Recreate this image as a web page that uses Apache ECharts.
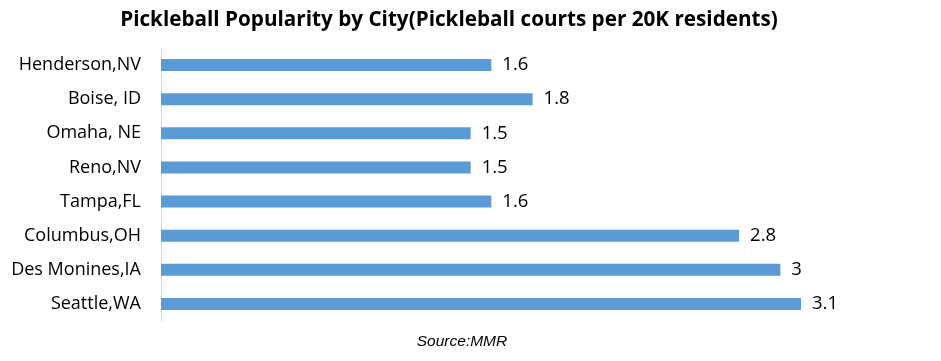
<!DOCTYPE html>
<html>
<head>
<meta charset="utf-8">
<script src="https://cdn.jsdelivr.net/npm/echarts@6/dist/echarts.min.js"></script>
<style>html,body{margin:0;padding:0;background:#fff}#c{width:941px;height:361px}</style>
</head>
<body>
<div id="c"></div>
<script>
const categories = ["Henderson,NV", "Boise, ID", "Omaha, NE", "Reno,NV", "Tampa,FL", "Columbus,OH", "Des Monines,IA", "Seattle,WA"];
const values = [1.6, 1.8, 1.5, 1.5, 1.6, 2.8, 3, 3.1];
const titleText = "Pickleball Popularity by City(Pickleball courts per 20K residents)";
const sourceText = "Source:MMR";

const chart = echarts.init(document.getElementById('c'));
const xMax = 3.5;
const unit = 640 / 3.1;
chart.setOption({
  animation: false,
  title: [{
    text: titleText, left: 444, top: 5, textAlign: 'center',
    textStyle: {fontFamily: 'Open Sans', fontWeight: 'bold', fontSize: 20.7, color: '#000'}
  }, {
    text: sourceText, left: 457, top: 329, textAlign: 'center',
    textStyle: {fontFamily: 'Liberation Sans', fontStyle: 'italic', fontWeight: 'normal', fontSize: 15.5, color: '#000'}
  }],
  grid: {left: 161, top: 48, width: unit * xMax, height: 273, containLabel: false},
  xAxis: {type: 'value', min: 0, max: xMax, show: false},
  yAxis: {
    type: 'category', data: categories, inverse: true,
    axisLine: {show: true, lineStyle: {color: '#d9d9d9', width: 1}},
    axisTick: {show: false},
    axisLabel: {margin: 20, fontFamily: 'Open Sans', fontSize: 18, color: '#000'}
  },
  series: [{
    type: 'bar', data: values, barWidth: 12,
    itemStyle: {color: '#5b9bd5'},
    label: {show: true, position: 'right', distance: 11, fontFamily: 'Open Sans', fontSize: 18.5, color: '#000'}
  }]
});
</script>
</body>
</html>
